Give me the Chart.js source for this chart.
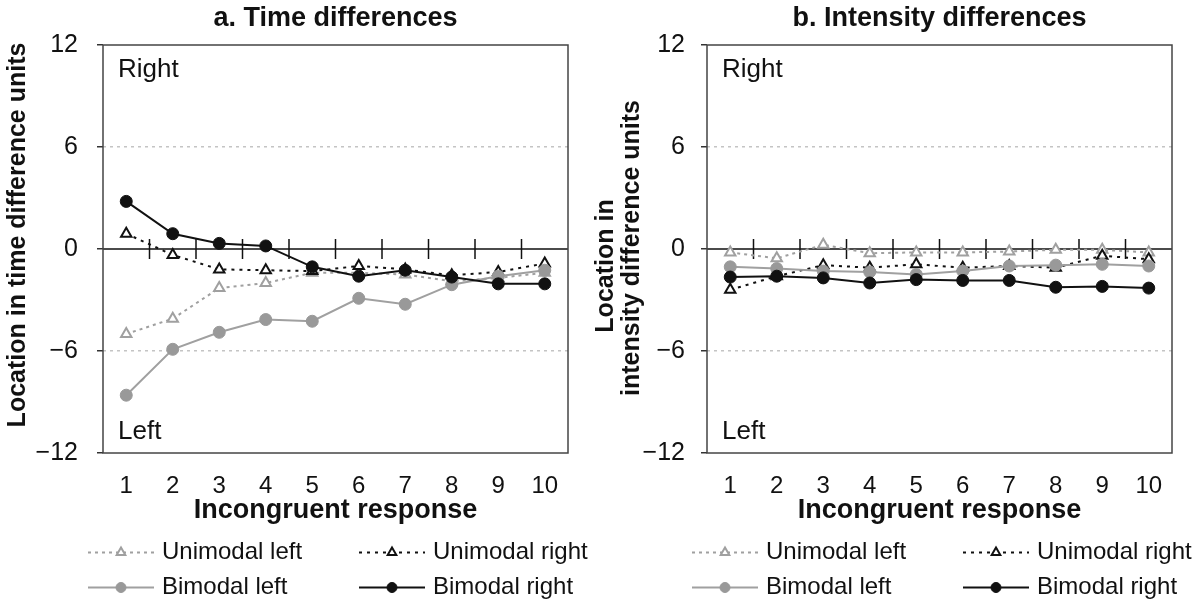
<!DOCTYPE html>
<html>
<head>
<meta charset="utf-8">
<script src="https://cdn.jsdelivr.net/npm/chart.js@4.4.1/dist/chart.umd.min.js"></script>
<style>
  body { margin: 0; background: #fff; }
  #wrap { position: relative; width: 1196px; height: 602px; }
  #chartA { position: absolute; left: 0; top: 0; }
  #chartB { position: absolute; left: 590px; top: 0; }
</style>
</head>
<body>
<div id="wrap">
  <canvas id="chartA" width="590" height="602"></canvas>
  <canvas id="chartB" width="606" height="602"></canvas>
</div>
<script>
// --- data ---
const responses = ['1', '2', '3', '4', '5', '6', '7', '8', '9', '10'];
const yRange = [-12, 12];
const yStep = 6;

// a. Time differences
const timeUniLeft  = [-5.0, -4.1, -2.3, -2.0, -1.4, -1.4, -1.5, -1.9, -1.7, -1.4];
const timeUniRight = [0.9, -0.35, -1.2, -1.25, -1.3, -1.0, -1.2, -1.55, -1.35, -0.85];
const timeBiLeft   = [-8.6, -5.9, -4.9, -4.15, -4.25, -2.9, -3.25, -2.1, -1.6, -1.25];
const timeBiRight  = [2.8, 0.9, 0.33, 0.18, -1.05, -1.6, -1.25, -1.65, -2.05, -2.05];

// b. Intensity differences
const intUniLeft  = [-0.2, -0.55, 0.25, -0.25, -0.2, -0.2, -0.15, -0.05, -0.05, -0.2];
const intUniRight = [-2.4, -1.6, -0.95, -1.1, -0.9, -1.1, -1.0, -1.1, -0.4, -0.6];
const intBiLeft   = [-1.05, -1.15, -1.3, -1.35, -1.5, -1.3, -1.0, -0.95, -0.9, -1.0];
const intBiRight  = [-1.65, -1.6, -1.7, -2.0, -1.8, -1.85, -1.85, -2.25, -2.2, -2.3];

const FONT = "'Liberation Sans', Arial, sans-serif";
const INK = '#111';
const GRAY = '#a0a0a0';

Chart.defaults.font.family = FONT;
Chart.defaults.color = INK;

function makeDatasets(uniLeft, uniRight, biLeft, biRight) {
    return [
        { label: 'Unimodal left', data: uniLeft, borderColor: GRAY, borderDash: [3, 4],
          pointStyle: 'triangle', pointBackgroundColor: '#fff', pointBorderColor: GRAY,
          pointBorderWidth: 2, order: 4 },
        { label: 'Unimodal right', data: uniRight, borderColor: INK, borderDash: [3, 5],
          pointStyle: 'triangle', pointBackgroundColor: '#fff', pointBorderColor: INK,
          pointBorderWidth: 2, order: 3 },
        { label: 'Bimodal left', data: biLeft, borderColor: GRAY, borderDash: [],
          pointStyle: 'circle', pointBackgroundColor: '#999', pointBorderColor: '#999',
          pointBorderWidth: 1, order: 2 },
        { label: 'Bimodal right', data: biRight, borderColor: INK, borderDash: [],
          pointStyle: 'circle', pointBackgroundColor: INK, pointBorderColor: INK,
          pointBorderWidth: 1, order: 1 }
    ].map(ds => ({ ...ds, borderWidth: 2, pointRadius: 6, tension: 0, fill: false }));
}

// zero line with category ticks, box, titles, Right/Left and legend
const panelDecor = {
    id: 'panelDecor',
    beforeDatasetsDraw(chart, args, opts) {
        const { ctx, chartArea: a, scales: { x, y } } = chart;
        const y0 = y.getPixelForValue(0);
        ctx.save();
        ctx.strokeStyle = INK;
        ctx.lineWidth = 1.5;
        ctx.beginPath();
        ctx.moveTo(a.left, y0);
        ctx.lineTo(a.right, y0);
        for (let i = 0; i < responses.length - 1; i++) {
            const xm = (x.getPixelForValue(i) + x.getPixelForValue(i + 1)) / 2;
            ctx.moveTo(xm, y0 - 10);
            ctx.lineTo(xm, y0 + 10);
        }
        ctx.stroke();
        ctx.strokeStyle = '#444';
        ctx.strokeRect(a.left, a.top, a.right - a.left, a.bottom - a.top);
        ctx.restore();
    },
    afterDraw(chart, args, opts) {
        const { ctx, chartArea: a } = chart;
        ctx.save();
        ctx.fillStyle = INK;
        ctx.textBaseline = 'middle';

        // panel title
        ctx.font = 'bold 27px ' + FONT;
        ctx.textAlign = 'center';
        ctx.fillText(opts.title, (a.left + a.right) / 2, 18.5);

        // y title (rotated)
        ctx.font = 'bold 25px ' + FONT;
        opts.yTitle.forEach(line => {
            ctx.save();
            ctx.translate(line.x, line.y);
            ctx.rotate(-Math.PI / 2);
            ctx.fillText(line.text, 0, 0);
            ctx.restore();
        });

        // Right / Left
        ctx.font = '26px ' + FONT;
        ctx.textAlign = 'left';
        ctx.fillText('Right', a.left + 15, a.top + 25);
        ctx.fillText('Left', a.left + 15, a.bottom - 21);

        // legend: 2 x 2
        const cols = [a.left - 15, a.left + 256];
        const rows = [552.5, 587.5];
        const cells = [[0, 0], [1, 0], [0, 1], [1, 1]];
        chart.data.datasets.forEach((ds, i) => {
            const [c, r] = cells[i];
            const x1 = cols[c], x2 = x1 + 66, yy = rows[r];
            ctx.strokeStyle = ds.borderColor;
            ctx.lineWidth = 2;
            ctx.setLineDash(ds.borderDash);
            ctx.beginPath();
            ctx.moveTo(x1, yy);
            ctx.lineTo(x2, yy);
            ctx.stroke();
            ctx.setLineDash([]);
            ctx.fillStyle = ds.pointBackgroundColor;
            ctx.strokeStyle = ds.pointBorderColor;
            ctx.lineWidth = ds.pointBorderWidth;
            Chart.helpers.drawPoint(ctx, { pointStyle: ds.pointStyle, radius: 5, rotation: 0,
                borderWidth: ds.pointBorderWidth }, (x1 + x2) / 2, yy);
            ctx.fillStyle = INK;
            ctx.font = '24px ' + FONT;
            ctx.fillText(ds.label, x1 + 74, yy);
        });
        ctx.restore();
    }
};

function makePanel(canvasId, datasets, decor, axisWidth, tickPad, rightPad) {
    return new Chart(document.getElementById(canvasId), {
        type: 'line',
        data: { labels: responses, datasets: datasets },
        options: {
            responsive: false,
            animation: false,
            layout: { padding: { left: 0, right: rightPad, top: 45, bottom: 69 } },
            plugins: {
                legend: { display: false },
                tooltip: { enabled: false },
                panelDecor: decor
            },
            scales: {
                x: {
                    offset: true,
                    grid: { display: false },
                    border: { display: false },
                    ticks: { padding: 11, font: { size: 24 }, color: INK, maxRotation: 0, autoSkip: false },
                    title: { display: true, text: 'Incongruent response', color: INK,
                             font: { size: 27, weight: 'bold' }, padding: { top: 0, bottom: 6 } },
                    afterFit: s => { s.height = 80; }
                },
                y: {
                    min: yRange[0],
                    max: yRange[1],
                    ticks: { stepSize: yStep, padding: tickPad, font: { size: 25 }, color: INK,
                             callback: v => String(v).replace('-', '\u2212') },
                    grid: {
                        color: c => Math.abs(c.tick.value) === 6 ? '#c4c4c4' : 'rgba(0,0,0,0)',
                        lineWidth: 1.5, tickLength: 6, tickColor: '#333', tickWidth: 1.5
                    },
                    border: { display: false, dash: [3, 4] },
                    afterFit: s => { s.width = axisWidth; }
                }
            }
        },
        plugins: [panelDecor]
    });
}

makePanel('chartA', makeDatasets(timeUniLeft, timeUniRight, timeBiLeft, timeBiRight), {
    title: 'a. Time differences',
    yTitle: [{ text: 'Location in time difference units', x: 18, y: 235 }]
}, 103, 19, 22);

makePanel('chartB', makeDatasets(intUniLeft, intUniRight, intBiLeft, intBiRight), {
    title: 'b. Intensity differences',
    yTitle: [{ text: 'Location in', x: 16, y: 266 },
             { text: 'intensity difference units', x: 42, y: 248 }]
}, 117, 16, 24);
</script>
</body>
</html>
